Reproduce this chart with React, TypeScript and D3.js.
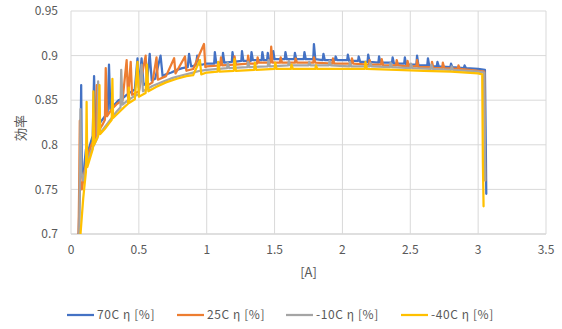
import * as d3 from "d3";

type Pt = [number, number];

const xTicks = [0, 0.5, 1, 1.5, 2, 2.5, 3, 3.5];
const yTicks = [0.7, 0.75, 0.8, 0.85, 0.9, 0.95];
const seriesNames = ["70C η [%]", "25C η [%]", "-10C η [%]", "-40C η [%]"];
const seriesColors = ["#4472C4", "#ED7D31", "#A5A5A5", "#FFC000"];

const eta70: Pt[] = [
  [0.055, 0.69], [0.065, 0.75], [0.07, 0.8], [0.075, 0.867], [0.08, 0.77], [0.09, 0.76], [0.1, 0.78], [0.11, 0.795],
  [0.12, 0.79], [0.14, 0.8], [0.16, 0.81], [0.17, 0.877], [0.18, 0.815], [0.2, 0.82], [0.22, 0.826], [0.25, 0.832],
  [0.27, 0.836], [0.28, 0.89], [0.29, 0.84], [0.32, 0.845], [0.35, 0.85], [0.38, 0.852], [0.41, 0.856], [0.44, 0.859],
  [0.47, 0.862], [0.49, 0.897], [0.5, 0.864], [0.52, 0.897], [0.535, 0.867], [0.56, 0.87], [0.58, 0.902], [0.595, 0.872],
  [0.62, 0.874], [0.66, 0.9], [0.675, 0.877], [0.7, 0.879], [0.74, 0.881], [0.78, 0.884], [0.82, 0.886], [0.86, 0.887],
  [0.87, 0.902], [0.885, 0.888], [0.92, 0.889], [0.93, 0.9], [0.945, 0.89], [0.97, 0.89], [1.0, 0.891],
  [1.055, 0.891], [1.06, 0.904], [1.07, 0.892], [1.115, 0.892], [1.12, 0.903], [1.13, 0.892], [1.185, 0.893], [1.19, 0.904],
  [1.2, 0.893], [1.255, 0.894], [1.26, 0.905], [1.27, 0.894], [1.325, 0.894], [1.33, 0.904], [1.34, 0.895], [1.405, 0.895],
  [1.41, 0.904], [1.42, 0.895], [1.445, 0.895], [1.45, 0.903], [1.46, 0.895], [1.485, 0.896], [1.49, 0.905], [1.5, 0.896],
  [1.575, 0.896], [1.58, 0.904], [1.59, 0.896], [1.645, 0.896], [1.65, 0.903], [1.66, 0.896], [1.715, 0.896], [1.72, 0.904],
  [1.73, 0.896], [1.785, 0.896], [1.79, 0.913], [1.8, 0.896], [1.855, 0.895], [1.86, 0.902], [1.87, 0.895], [1.945, 0.895],
  [1.95, 0.899], [1.96, 0.895], [2.035, 0.895], [2.04, 0.901], [2.05, 0.894], [2.115, 0.894], [2.12, 0.899], [2.13, 0.893],
  [2.185, 0.893], [2.19, 0.901], [2.2, 0.893], [2.265, 0.892], [2.27, 0.899], [2.28, 0.892], [2.365, 0.892], [2.37, 0.898],
  [2.38, 0.891], [2.455, 0.891], [2.46, 0.898], [2.47, 0.89], [2.545, 0.89], [2.55, 0.9], [2.56, 0.889], [2.625, 0.889],
  [2.63, 0.897], [2.64, 0.888], [2.695, 0.888], [2.7, 0.893], [2.71, 0.888], [2.795, 0.887], [2.8, 0.891], [2.81, 0.887],
  [2.895, 0.886], [2.9, 0.889], [2.91, 0.886], [3.0, 0.885], [3.05, 0.884], [3.055, 0.82], [3.06, 0.745],
];

const eta25: Pt[] = [
  [0.055, 0.69], [0.06, 0.75], [0.065, 0.827], [0.07, 0.76], [0.08, 0.75], [0.1, 0.77], [0.12, 0.785], [0.15, 0.8],
  [0.185, 0.81], [0.19, 0.867], [0.2, 0.815], [0.23, 0.822], [0.25, 0.828], [0.256, 0.886], [0.265, 0.832], [0.3, 0.84],
  [0.34, 0.846], [0.38, 0.85], [0.41, 0.895], [0.42, 0.853], [0.44, 0.893], [0.45, 0.856], [0.5, 0.86], [0.55, 0.9],
  [0.56, 0.866], [0.6, 0.87], [0.63, 0.898], [0.64, 0.873], [0.7, 0.877], [0.76, 0.897], [0.77, 0.88], [0.84, 0.899],
  [0.85, 0.883], [0.9, 0.885], [0.98, 0.913], [0.99, 0.887], [1.0, 0.888],
  [1.1, 0.889], [1.105, 0.898], [1.115, 0.889], [1.2, 0.89], [1.205, 0.899], [1.215, 0.89], [1.3, 0.891], [1.305, 0.9],
  [1.315, 0.891], [1.37, 0.891], [1.375, 0.898], [1.385, 0.892], [1.47, 0.892], [1.475, 0.91], [1.485, 0.892], [1.54, 0.892],
  [1.545, 0.898], [1.555, 0.892], [1.65, 0.892], [1.655, 0.897], [1.665, 0.892], [1.785, 0.892], [1.79, 0.898], [1.8, 0.892],
  [1.925, 0.891], [1.93, 0.897], [1.94, 0.891], [2.065, 0.891], [2.07, 0.897], [2.08, 0.891], [2.195, 0.89], [2.2, 0.895],
  [2.21, 0.89], [2.285, 0.89], [2.29, 0.896], [2.3, 0.889], [2.395, 0.889], [2.4, 0.895], [2.41, 0.889], [2.475, 0.888],
  [2.48, 0.894], [2.49, 0.888], [2.545, 0.888], [2.55, 0.895], [2.56, 0.887], [2.655, 0.887], [2.66, 0.893], [2.67, 0.886],
  [2.735, 0.886], [2.74, 0.892], [2.75, 0.886], [2.85, 0.885], [2.855, 0.889], [2.865, 0.885], [3.0, 0.883], [3.045, 0.882],
  [3.05, 0.8], [3.052, 0.76],
];

const etaM10: Pt[] = [
  [0.06, 0.69], [0.065, 0.76], [0.07, 0.84], [0.075, 0.77], [0.09, 0.76], [0.11, 0.775], [0.14, 0.79], [0.17, 0.8],
  [0.195, 0.808], [0.2, 0.871], [0.21, 0.812], [0.25, 0.82], [0.3, 0.83], [0.34, 0.838], [0.365, 0.842], [0.37, 0.884],
  [0.38, 0.845], [0.42, 0.85], [0.46, 0.854], [0.5, 0.857], [0.52, 0.89], [0.53, 0.86], [0.6, 0.866], [0.68, 0.871],
  [0.75, 0.875], [0.82, 0.878], [0.9, 0.881], [0.95, 0.883], [1.0, 0.884],
  [1.15, 0.886], [1.155, 0.892], [1.165, 0.886], [1.3, 0.887], [1.305, 0.893], [1.315, 0.887], [1.45, 0.888], [1.455, 0.895],
  [1.465, 0.888], [1.6, 0.889], [1.605, 0.894], [1.615, 0.889], [1.75, 0.889], [1.755, 0.893], [1.765, 0.889], [1.9, 0.889],
  [1.905, 0.894], [1.915, 0.889], [2.05, 0.888], [2.055, 0.893], [2.065, 0.888], [2.2, 0.888], [2.205, 0.892], [2.215, 0.888],
  [2.35, 0.887], [2.355, 0.892], [2.365, 0.887], [2.5, 0.886], [2.505, 0.891], [2.515, 0.886], [2.65, 0.885], [2.655, 0.89],
  [2.665, 0.885], [2.8, 0.884], [2.805, 0.888], [2.815, 0.884], [3.0, 0.882], [3.045, 0.881], [3.05, 0.78], [3.052, 0.76],
];

const etaM40: Pt[] = [
  [0.065, 0.69], [0.07, 0.7], [0.08, 0.72], [0.09, 0.74], [0.1, 0.755], [0.11, 0.77], [0.115, 0.848], [0.12, 0.775],
  [0.14, 0.785], [0.16, 0.795], [0.165, 0.86], [0.17, 0.8], [0.2, 0.81], [0.21, 0.867], [0.215, 0.812], [0.25, 0.818],
  [0.28, 0.824], [0.3, 0.828], [0.305, 0.874], [0.31, 0.83], [0.35, 0.836], [0.39, 0.842], [0.42, 0.846], [0.425, 0.864],
  [0.43, 0.847], [0.47, 0.851], [0.49, 0.893], [0.5, 0.854], [0.55, 0.858], [0.56, 0.89], [0.57, 0.86], [0.63, 0.865],
  [0.7, 0.87], [0.78, 0.874], [0.85, 0.877], [0.9, 0.878], [0.95, 0.895], [0.96, 0.879], [1.0, 0.881], [1.08, 0.882],
  [1.085, 0.893], [1.095, 0.882], [1.2, 0.883], [1.205, 0.896], [1.215, 0.883], [1.35, 0.884], [1.355, 0.892], [1.365, 0.884],
  [1.5, 0.885], [1.505, 0.892], [1.515, 0.885], [1.62, 0.885], [1.625, 0.89], [1.635, 0.885], [1.8, 0.885], [1.805, 0.889],
  [1.815, 0.885], [2.0, 0.885], [2.165, 0.885], [2.17, 0.893], [2.18, 0.885], [2.4, 0.884], [2.6, 0.883], [2.8, 0.882],
  [3.0, 0.88], [3.03, 0.879], [3.035, 0.78], [3.04, 0.731],
];

const allSeries = [eta70, eta25, etaM10, etaM40];

const width = 562;
const height = 329;
const margin = { top: 11, right: 16, bottom: 95, left: 71 };
const font = "'Noto Sans CJK JP', 'Noto Sans', sans-serif";
const textColor = "#595959";

export default function App() {
  const innerWidth = width - margin.left - margin.right;
  const innerHeight = height - margin.top - margin.bottom;
  const x = d3.scaleLinear().domain([0, 3.5]).range([0, innerWidth]);
  const y = d3.scaleLinear().domain([0.7, 0.95]).range([innerHeight, 0]);
  const line = d3.line<Pt>().x((d) => x(d[0])).y((d) => y(d[1]));
  const legendX = [67, 177, 286, 401];

  return (
    <div style={{ position: "fixed", left: 0, top: 0 }}>
      <svg width={width} height={height} style={{ display: "block", background: "#fff" }} fontFamily={font}>
        <defs>
          <clipPath id="plot">
            <rect x={0} y={-2} width={innerWidth} height={innerHeight + 2} />
          </clipPath>
        </defs>
        <g transform={`translate(${margin.left},${margin.top})`}>
          {yTicks.map((t) => (
            <g key={`y${t}`}>
              <line x1={0} x2={innerWidth} y1={y(t)} y2={y(t)} stroke={t === 0.7 ? "#BFBFBF" : "#D9D9D9"} />
              <text x={-13} y={y(t)} dy="0.35em" textAnchor="end" fontSize={12} fill={textColor}>{t}</text>
            </g>
          ))}
          {xTicks.map((t) => (
            <g key={`x${t}`}>
              <line x1={x(t)} x2={x(t)} y1={0} y2={innerHeight} stroke="#D9D9D9" />
              <text x={x(t)} y={innerHeight + 20} textAnchor="middle" fontSize={12} fill={textColor}>{t}</text>
            </g>
          ))}
          <g clipPath="url(#plot)">
            {allSeries.map((s, i) => (
              <path key={i} d={line(s) ?? ""} fill="none" stroke={seriesColors[i]} strokeWidth={2.25} strokeLinejoin="round" strokeLinecap="round" />
            ))}
          </g>
          <text x={innerWidth / 2} y={innerHeight + 43} textAnchor="middle" fontSize={13} fill={textColor}>[A]</text>
          <text transform={`translate(${20 - margin.left},${128 - margin.top}) rotate(-90)`} textAnchor="middle" dy="0.35em" fontSize={13} fill={textColor}>効率</text>
        </g>
        {seriesNames.map((name, i) => (
          <g key={name} transform={`translate(${legendX[i]},315)`}>
            <line x1={0} x2={27} y1={0} y2={0} stroke={seriesColors[i]} strokeWidth={2.25} />
            <text x={30} y={0} dy="0.35em" fontSize={12} letterSpacing={0.6} fill={textColor}>{name}</text>
          </g>
        ))}
      </svg>
    </div>
  );
}
